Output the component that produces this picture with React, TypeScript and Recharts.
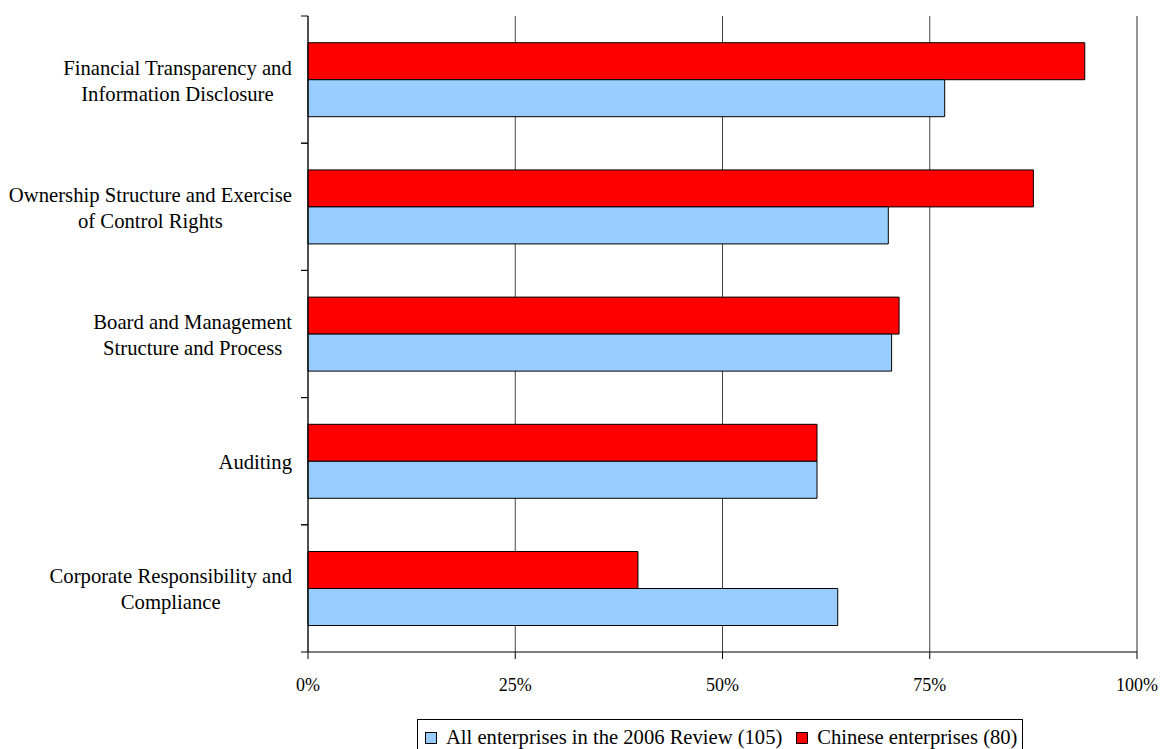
import React from 'react';
import { BarChart, Bar, XAxis, YAxis, CartesianGrid, ReferenceLine } from 'recharts';

const categories = [
  'Financial Transparency and\nInformation Disclosure',
  'Ownership Structure and Exercise\nof Control Rights',
  'Board and Management\nStructure and Process',
  'Auditing',
  'Corporate Responsibility and\nCompliance',
];
const allEnterprises = [76.8, 70.0, 70.4, 61.4, 63.9];
const chineseEnterprises = [93.7, 87.5, 71.3, 61.4, 39.8];
const xTicks = [0, 25, 50, 75, 100];
const seriesNames = ['All enterprises in the 2006 Review (105)', 'Chinese enterprises (80)'];
const seriesColors = ['#99CCFF', '#FF0000'];

const data = categories.map((name, i) => ({
  name,
  all: allEnterprises[i],
  chinese: chineseEnterprises[i],
}));

const FONT = '"Liberation Serif", "Times New Roman", serif';
const LABEL_SIZE = 20.7;

let ctx: CanvasRenderingContext2D | null = null;
const measure = (s: string, size: number) => {
  if (!ctx) ctx = document.createElement('canvas').getContext('2d');
  if (!ctx) return s.length * size * 0.45;
  ctx.font = `${size}px "Liberation Serif"`;
  return ctx.measureText(s).width;
};

// category label: lines centred on each other, block right-aligned to the axis
const CategoryTick = (props: any) => {
  const { x, y, payload } = props;
  const lines = String(payload.value).split('\n');
  const w = Math.max(...lines.map((l) => measure(l, LABEL_SIZE)));
  const cx = x - w / 2;
  const axisX = x + 16;
  const half = payload.offset || 0;
  const start = -(lines.length - 1) * 13 + 1;
  return (
    <g>
      <line x1={axisX - 7} x2={axisX} y1={y - half} y2={y - half} stroke="#000" />
      <line x1={axisX - 7} x2={axisX} y1={y + half} y2={y + half} stroke="#000" />
      {lines.map((l, i) => (
        <text
          key={i}
          x={cx}
          y={y + start + i * 26}
          textAnchor="middle"
          dominantBaseline="central"
          fontFamily={FONT}
          fontSize={LABEL_SIZE}
          fill="#000"
        >
          {l}
        </text>
      ))}
    </g>
  );
};

const App = () => {
  return (
    <div style={{ position: 'absolute', left: 0, top: 0, width: 1160, height: 749, background: '#fff', overflow: 'hidden' }}>
      <BarChart
        width={1160}
        height={749}
        data={data}
        layout="vertical"
        margin={{ top: 16, right: 23, bottom: 67, left: 0 }}
        barCategoryGap="21%"
        barGap={0}
      >
        <CartesianGrid horizontal={false} stroke="#444" />
        <XAxis
          type="number"
          domain={[0, 100]}
          ticks={xTicks}
          tickFormatter={(v) => `${v}%`}
          height={30}
          tickSize={7}
          tickMargin={19}
          axisLine={{ stroke: '#000' }}
          tickLine={{ stroke: '#000' }}
          tick={{ fill: '#000', fontFamily: FONT, fontSize: 18 }}
        />
        <XAxis
          xAxisId="top"
          orientation="top"
          type="number"
          domain={[0, 100]}
          height={0}
          tick={false}
          tickLine={false}
          axisLine={{ stroke: '#888' }}
        />
        <YAxis
          type="category"
          dataKey="name"
          width={308}
          tickLine={false}
          tickSize={0}
          tickMargin={16}
          axisLine={{ stroke: '#000' }}
          tick={<CategoryTick />}
          interval={0}
        />
        <ReferenceLine x={100} stroke="#888" />
        <Bar dataKey="chinese" name={seriesNames[1]} fill={seriesColors[1]} stroke="#000" strokeWidth={1} isAnimationActive={false} />
        <Bar dataKey="all" name={seriesNames[0]} fill={seriesColors[0]} stroke="#000" strokeWidth={1} isAnimationActive={false} />
      </BarChart>
      <div
        style={{
          position: 'absolute',
          left: 417,
          top: 719,
          width: 606,
          height: 37,
          border: '1px solid #000',
          display: 'flex',
          alignItems: 'center',
          paddingLeft: 7,
          fontFamily: FONT,
          fontSize: 20.6,
          color: '#000',
          whiteSpace: 'nowrap',
          boxSizing: 'border-box',
        }}
      >
        {seriesNames.map((name, i) => (
          <span key={name} style={{ display: 'flex', alignItems: 'center', marginRight: i === 0 ? 14 : 0 }}>
            <span
              style={{
                display: 'inline-block',
                width: 10,
                height: 10,
                background: seriesColors[i],
                border: '1px solid #000',
                marginRight: 9,
              }}
            />
            {name}
          </span>
        ))}
      </div>
    </div>
  );
};

export default App;
